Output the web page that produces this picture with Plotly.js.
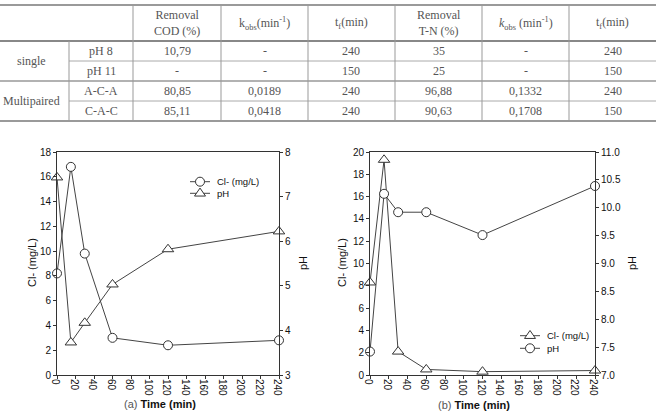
<!DOCTYPE html>
<html>
<head>
<meta charset="utf-8">
<script src="https://cdn.plot.ly/plotly-3.0.1.min.js"></script>
<style>
  html, body { margin: 0; padding: 0; background: #fff; }
  #chart { width: 656px; height: 415px; }
</style>
</head>
<body>
<div id="chart"></div>
<script>
// ---- Table values ----
const headerLabels = [
  'Removal<br>COD (%)',
  'k<sub>obs</sub>(min<sup>-1</sup>)',
  't<sub>f</sub>(min)',
  'Removal<br>T-N (%)',
  '<i>k</i><sub>obs</sub> (min<sup>-1</sup>)',
  't<sub>f</sub>(min)'
];
const groupNames = ['single', 'Multipaired'];
const conditions = ['pH 8', 'pH 11', 'A-C-A', 'C-A-C'];
const codRemoval = ['10,79', '-', '80,85', '85,11'];
const codKobs    = ['-', '-', '0,0189', '0,0418'];
const codTf      = ['240', '150', '240', '240'];
const tnRemoval  = ['35', '25', '96,88', '90,63'];
const tnKobs     = ['-', '-', '0,1332', '0,1708'];
const tnTf       = ['240', '150', '240', '150'];

// ---- Plot (a) ----
const timeA = [0, 15, 30, 60, 120, 240];
const chlorideA = [8.2, 16.8, 9.8, 3.0, 2.4, 2.8];
const phA = [7.43, 3.73, 4.17, 5.03, 5.82, 6.22];

// ---- Plot (b) ----
const timeB = [0, 15, 30, 60, 120, 240];
const chlorideB = [8.3, 19.3, 2.1, 0.5, 0.3, 0.4];
const phB = [7.42, 10.25, 9.92, 9.92, 9.51, 10.39];

// ---- Layout helpers: pixel -> paper coordinates ----
const W = 656, H = 415;
const px = x => x / W;
const py = y => 1 - y / H;

const INK = '#333';
const shapes = [];
const annotations = [];

function hline(x0, x1, y, color, width) {
  shapes.push({type: 'line', xref: 'paper', yref: 'paper',
    x0: px(x0), x1: px(x1), y0: py(y), y1: py(y),
    line: {color: color, width: width}});
}
function vline(x, y0, y1, color, width) {
  shapes.push({type: 'line', xref: 'paper', yref: 'paper',
    x0: px(x), x1: px(x), y0: py(y0), y1: py(y1),
    line: {color: color, width: width}});
}
function label(x, y, text, opts) {
  annotations.push(Object.assign({
    xref: 'paper', yref: 'paper', x: px(x), y: py(y),
    xanchor: 'center', yanchor: 'middle', showarrow: false, text: text,
    font: {family: 'Liberation Serif, Times New Roman, serif', size: 12, color: '#555'}
  }, opts || {}));
}

// ---- Table grid ----
const colEdges = [0, 69, 133, 221, 308, 395, 482, 569, 656];
const rowEdges = [5, 41, 61, 81, 101, 121];

hline(0, 656, rowEdges[0], '#9a9a9a', 2);
hline(0, 656, rowEdges[1], '#888', 2);
hline(69, 656, rowEdges[2], '#aaa', 1);
hline(0, 656, rowEdges[3], '#999', 1.5);
hline(69, 656, rowEdges[4], '#aaa', 1);
hline(0, 656, rowEdges[5], '#9a9a9a', 2);
vline(colEdges[1], rowEdges[1], rowEdges[5], '#999', 1);
for (let c = 2; c < colEdges.length - 1; c++) {
  vline(colEdges[c], rowEdges[0], rowEdges[5], '#999', 1);
}

// header cells
headerLabels.forEach((h, i) => {
  label((colEdges[i + 2] + colEdges[i + 3]) / 2, (rowEdges[0] + rowEdges[1]) / 2 + 0.5, h);
});
// group column
groupNames.forEach((g, i) => {
  label(31, rowEdges[1 + 2 * i + 1], g);
});
// data rows
const columns = [conditions, codRemoval, codKobs, codTf, tnRemoval, tnKobs, tnTf];
for (let r = 0; r < conditions.length; r++) {
  const yc = (rowEdges[r + 1] + rowEdges[r + 2]) / 2;
  columns.forEach((col, c) => {
    label((colEdges[c + 1] + colEdges[c + 2]) / 2, yc, col[r]);
  });
}

// ---- Plot areas ----
const plotTop = 152, plotBot = 375;
const aL = 57, aR = 279, bL = 370, bR = 595;

const axisFont = {family: 'Arial, Liberation Sans, sans-serif', size: 10, color: '#111'};
const baseAxis = {
  showline: true, linecolor: INK, linewidth: 1,
  ticks: 'outside', ticklen: 3, tickcolor: INK, tickwidth: 1,
  showgrid: false, zeroline: false, tickfont: axisFont, fixedrange: true
};

const lineStyle = {color: '#444', width: 1};
const circle = {symbol: 'circle', size: 9, color: '#fff', line: {color: '#333', width: 1}};
const triangle = {symbol: 'triangle-up', size: 10, color: '#fff', line: {color: '#333', width: 1}};

const traces = [
  {x: timeA, y: chlorideA, xaxis: 'x', yaxis: 'y', name: 'Cl- (mg/L)',
   mode: 'lines+markers', line: lineStyle, marker: circle, cliponaxis: false},
  {x: timeA, y: phA, xaxis: 'x', yaxis: 'y2', name: 'pH',
   mode: 'lines+markers', line: lineStyle, marker: triangle, cliponaxis: false},
  {x: timeB, y: chlorideB, xaxis: 'x2', yaxis: 'y3', name: 'Cl- (mg/L)',
   mode: 'lines+markers', line: lineStyle, marker: triangle, cliponaxis: false},
  {x: timeB, y: phB, xaxis: 'x2', yaxis: 'y4', name: 'pH',
   mode: 'lines+markers', line: lineStyle, marker: circle, cliponaxis: false}
];

// ---- Legend keys ----
function legendKey(xc, y, symbol, text) {
  hline(xc - 10, xc + 10, y, '#444', 1);
  const r = 4.5;
  if (symbol === 'circle') {
    shapes.push({type: 'circle', xref: 'paper', yref: 'paper',
      x0: px(xc - r), x1: px(xc + r), y0: py(y + r), y1: py(y - r),
      fillcolor: '#fff', line: {color: '#333', width: 1}});
  } else {
    const s = 5.5;
    const path = 'M' + px(xc - s) + ',' + py(y + s * 0.5) +
      ' L' + px(xc + s) + ',' + py(y + s * 0.5) +
      ' L' + px(xc) + ',' + py(y - s * 0.95) + ' Z';
    shapes.push({type: 'path', xref: 'paper', yref: 'paper', path: path,
      fillcolor: '#fff', line: {color: '#333', width: 1}});
  }
  annotations.push({xref: 'paper', yref: 'paper', x: px(xc + 15), y: py(y),
    xanchor: 'left', yanchor: 'middle', showarrow: false, text: text,
    font: {family: 'Arial, Liberation Sans, sans-serif', size: 9.5, color: '#111'}});
}
legendKey(200, 181.7, 'circle', traces[0].name);
legendKey(200, 193.3, 'triangle', traces[1].name);
legendKey(530, 335.7, 'triangle', traces[2].name);
legendKey(530, 348.3, 'circle', traces[3].name);

// ---- Axis titles ----
const titleFont = {family: 'Arial, Liberation Sans, sans-serif', size: 11, color: '#111'};
function axisTitle(x, y, text, angle) {
  annotations.push({xref: 'paper', yref: 'paper', x: px(x), y: py(y),
    xanchor: 'center', yanchor: 'middle', showarrow: false, text: text,
    textangle: angle, font: titleFont});
}
axisTitle(32, 263, 'Cl- (mg/L)', -90);
axisTitle(303, 263, 'pH', -90);
axisTitle(342, 263, 'Cl- (mg/L)', -90);
axisTitle(632, 263, 'pH', -90);
axisTitle(160, 404, '<span style="color:#555">(a)</span> <b>Time (min)</b>', 0);
axisTitle(474, 405, '<span style="color:#555">(b)</span> <b>Time (min)</b>', 0);

const xTickPull = -7;
const layout = {
  width: W, height: H,
  margin: {l: 0, r: 0, t: 0, b: 0},
  paper_bgcolor: '#fff', plot_bgcolor: '#fff',
  showlegend: false,
  xaxis: Object.assign({}, baseAxis, {
    domain: [px(aL), px(aR)], range: [0, 240], dtick: 20, anchor: 'y', mirror: true,
    ticklabelstandoff: xTickPull}),
  yaxis: Object.assign({}, baseAxis, {
    domain: [py(plotBot), py(plotTop)], range: [0, 18], dtick: 2, anchor: 'x'}),
  yaxis2: Object.assign({}, baseAxis, {
    range: [3, 8], dtick: 1, overlaying: 'y', side: 'right', anchor: 'x'}),
  xaxis2: Object.assign({}, baseAxis, {
    domain: [px(bL), px(bR)], range: [0, 240], dtick: 20, anchor: 'y3', mirror: true,
    ticklabelstandoff: xTickPull}),
  yaxis3: Object.assign({}, baseAxis, {
    domain: [py(plotBot), py(plotTop)], range: [0, 20], dtick: 2, anchor: 'x2'}),
  yaxis4: Object.assign({}, baseAxis, {
    range: [7, 11], dtick: 0.5, tickformat: '.1f', overlaying: 'y3', side: 'right', anchor: 'x2'}),
  shapes: shapes,
  annotations: annotations
};

Plotly.newPlot('chart', traces, layout, {displayModeBar: false, staticPlot: true});
</script>
</body>
</html>
